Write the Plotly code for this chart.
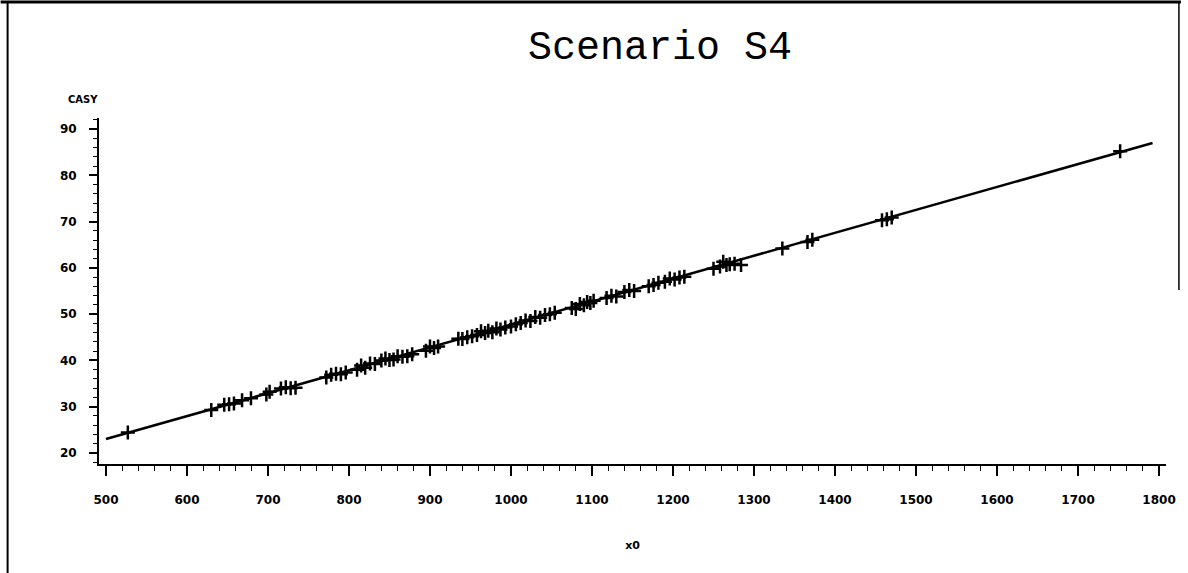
import plotly.graph_objects as go

# ---- data ----
x0 = [527, 630, 646, 652, 658, 668, 679, 698, 702, 716, 722, 728, 734,
      772, 778, 784, 790, 796, 810, 815, 820, 826, 832, 840, 845, 850, 855,
      860, 866, 872, 878, 895, 900, 905, 910, 935, 940, 946, 952, 958, 963,
      968, 972, 977, 982, 987, 993, 1000, 1006, 1012, 1018, 1024, 1030, 1036,
      1042, 1048, 1054, 1075, 1080, 1085, 1090, 1094, 1098, 1102, 1118, 1124,
      1130, 1140, 1146, 1152, 1170, 1176, 1182, 1190, 1196, 1202, 1208, 1214,
      1250, 1258, 1262, 1266, 1270, 1276, 1284, 1335, 1366, 1372, 1458, 1464,
      1470, 1752]
casy = [24.4, 29.3, 30.4, 30.5, 30.7, 31.4, 31.8, 32.6, 33.2, 33.9, 34.2, 34.0, 34.1,
        36.3, 36.9, 37.1, 37.0, 37.4, 38.0, 38.9, 38.4, 39.3, 39.2, 40.0, 40.4, 40.1, 40.2,
        40.9, 40.8, 40.9, 41.3, 42.1, 43.0, 42.7, 43.0, 44.7, 44.6, 45.0, 45.2, 45.5, 46.3,
        45.9, 46.4, 46.1, 46.9, 46.7, 47.1, 47.3, 47.8, 48.1, 48.6, 48.5, 49.4, 49.2,
        49.8, 50.0, 50.3, 51.3, 51.1, 52.2, 51.9, 52.6, 52.4, 52.9, 53.5, 54.0,
        53.8, 54.8, 55.2, 55.0, 56.0, 56.3, 56.8, 57.0, 57.7, 57.5, 57.9, 58.1,
        59.8, 60.3, 61.3, 60.6, 60.8, 60.9, 60.6, 64.2, 65.6, 66.1, 70.3, 70.5,
        70.9, 85.2]
fit_x = [500, 1792]
fit_y = [23.0, 87.0]

x_ticks = [500, 600, 700, 800, 900, 1000, 1100, 1200, 1300, 1400, 1500, 1600, 1700, 1800]
y_ticks = [20, 30, 40, 50, 60, 70, 80, 90]

W, H = 1188, 573
ML, MR, MT, MB = 99, 15, 118, 109

fig = go.Figure()
fig.add_trace(go.Scatter(x=fit_x, y=fit_y, mode="lines",
                         line=dict(color="black", width=2.5), showlegend=False))
fig.add_trace(go.Scatter(x=x0, y=casy, mode="markers",
                         marker=dict(symbol="cross-thin", size=10,
                                     line=dict(color="black", width=2.5)),
                         showlegend=False))

tickfont = dict(family="DejaVu Sans", size=12, color="black", weight="bold")

fig.update_xaxes(range=[491.4, 1808.6], tickvals=x_ticks, ticktext=[str(v) for v in x_ticks],
                 ticks="outside", ticklen=10, tickwidth=1.5, tickcolor="black",
                 ticklabelstandoff=14,
                 minor=dict(dtick=20, ticks="outside", ticklen=5, tickwidth=1, tickcolor="black"),
                 showline=True, linecolor="black", linewidth=2, showgrid=False, zeroline=False,
                 tickfont=tickfont,
                 title=dict(text="x0", font=dict(family="DejaVu Sans", size=11, color="black", weight="bold"), standoff=35))
fig.update_yaxes(range=[17.6, 92.4], tickvals=y_ticks, ticktext=[str(v) for v in y_ticks],
                 ticks="outside", ticklen=8, tickwidth=1.5, tickcolor="black",
                 ticklabelstandoff=10,
                 minor=dict(dtick=2, ticks="outside", ticklen=4, tickwidth=1, tickcolor="black"),
                 showline=True, linecolor="black", linewidth=2, showgrid=False, zeroline=False,
                 tickfont=tickfont)

PW, PH = W - ML - MR, H - MT - MB
def px(x):
    return (x - ML) / PW
def py(y):
    return (H - MB - y) / PH

shapes = [
    dict(type="line", xref="paper", yref="paper", x0=px(0), x1=px(W), y0=py(2), y1=py(2),
         line=dict(color="black", width=3)),
    dict(type="line", xref="paper", yref="paper", x0=px(7), x1=px(7), y0=py(2), y1=py(H),
         line=dict(color="black", width=2)),
    dict(type="line", xref="paper", yref="paper", x0=px(1186), x1=px(1186), y0=py(2), y1=py(290),
         line=dict(color="black", width=1.5)),
]

annotations = [
    dict(text="CASY", xref="paper", yref="paper", x=px(66), y=py(99), xanchor="left",
         yanchor="middle", showarrow=False,
         font=dict(family="DejaVu Sans", size=10, color="black", weight="bold")),
]

fig.update_layout(
    width=W, height=H,
    margin=dict(l=ML, r=MR, t=MT, b=MB),
    paper_bgcolor="white", plot_bgcolor="white",
    title=dict(text="Scenario S4", x=660 / W, xanchor="center", y=1 - 45 / H, yanchor="middle",
               font=dict(family="Liberation Mono", size=40, color="black")),
    shapes=shapes, annotations=annotations,
)

fig.write_html("out.html")
